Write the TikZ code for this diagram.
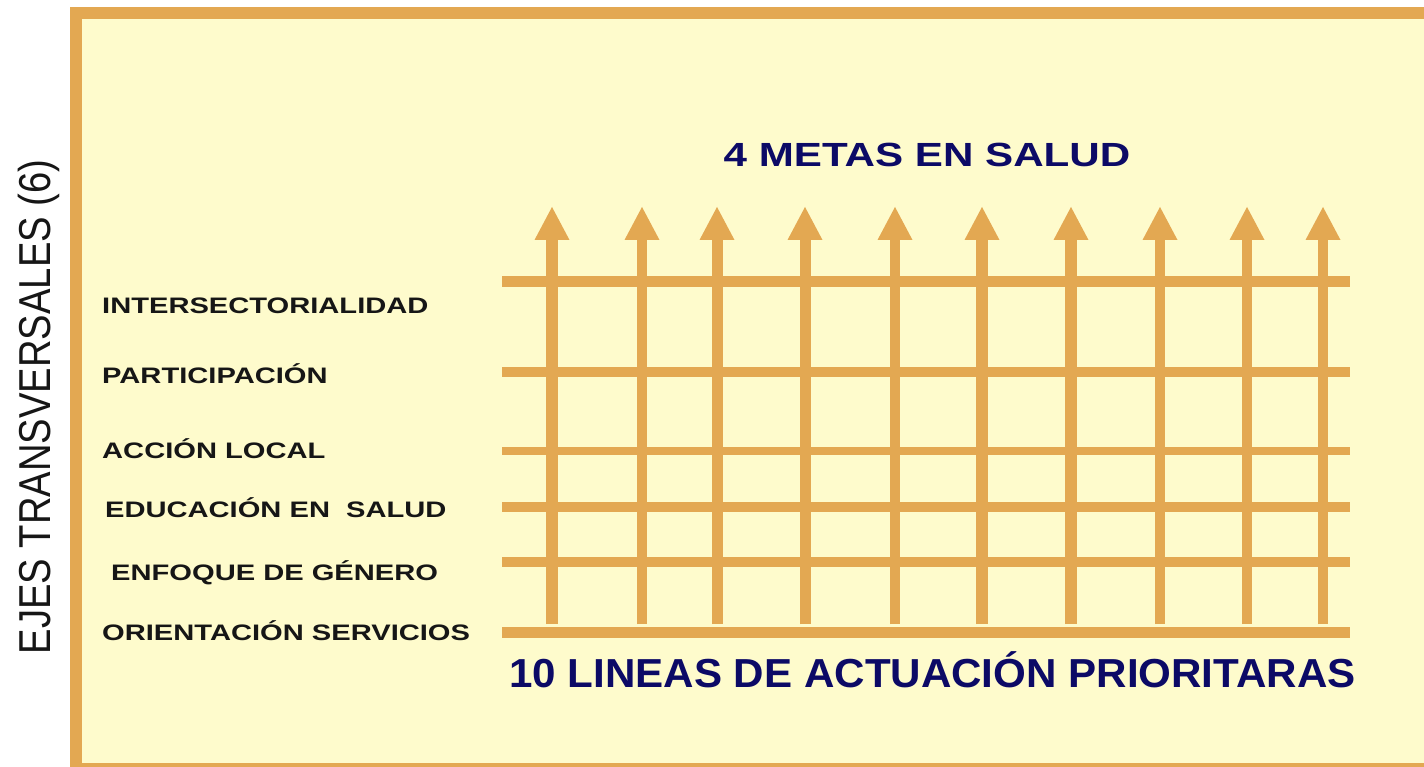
\documentclass[tikz,border=0pt]{standalone}
\usepackage{fontspec}
\setmainfont{Liberation Sans}
\usetikzlibrary{arrows.meta}
\definecolor{frameor}{RGB}{227,168,82}
\definecolor{bgy}{RGB}{254,251,204}
\definecolor{navy}{RGB}{12,10,102}
\definecolor{lblk}{RGB}{22,22,22}
\tikzset{
  hbar/.style={draw=frameor, line cap=butt},
  uparrow/.style={draw=frameor, line cap=butt, -{Triangle[width=35pt,length=33pt,line width=0pt]}},
  lbl/.style={inner sep=0pt, anchor=base west, text=lblk, font=\fontsize{22.4}{24}\selectfont\bfseries},
  ttl/.style={inner sep=0pt, anchor=base, text=navy},
}
\begin{document}
\begin{tikzpicture}[x=1pt,y=-1pt]
\useasboundingbox (0,0) rectangle (1424,767);
\clip (0,0) rectangle (1424,767);
% frame
\fill[white] (0,0) rectangle (1424,767);
\draw[draw=frameor, fill=bgy, line width=12pt] (76,13.5) rectangle (1450,768.5);
% horizontal bars
\foreach \yy/\w in {282/11, 372/10, 451/8, 507/10, 562/10, 632/11}{
  \coordinate (hl\yy) at (502,\yy);
  \coordinate (hr\yy) at (1350,\yy);
  \draw[hbar, line width=\w pt] (hl\yy) -- (hr\yy);
}
% vertical arrows
\foreach \xx/\w in {552/12, 642/10, 717/11, 805/11, 895/10, 982/12, 1071/12, 1160/10, 1247/10, 1323/10}{
  \coordinate (ab\xx) at (\xx,624);
  \coordinate (at\xx) at (\xx,207);
  \draw[uparrow, line width=\w pt] (ab\xx) -- (at\xx);
}
% titles
\node[ttl, font=\fontsize{33.5}{36}\selectfont\bfseries] (metas) at (927,167) {\scalebox{1.258}[1]{4 METAS EN SALUD}};
\node[ttl, font=\fontsize{40.5}{44}\selectfont\bfseries] (lineas) at (932.5,687) {\scalebox{1.04}[1]{10 LINEAS DE ACTUACIÓN PRIORITARAS}};
% rotated label
\node[inner sep=0pt, anchor=base, rotate=90, text=lblk, font=\fontsize{38.2}{40}\selectfont] (ejes) at (50,407) {\scalebox{1}[1.17]{EJES TRANSVERSALES (6)}};
% left labels
\node[lbl] (l1) at (102,313) {\scalebox{1.3}[1]{INTERSECTORIALIDAD}};
\node[lbl] (l2) at (102,383) {\scalebox{1.3}[1]{PARTICIPACIÓN}};
\node[lbl] (l3) at (102,458) {\scalebox{1.3}[1]{ACCIÓN LOCAL}};
\node[lbl] (l4) at (105,517) {\scalebox{1.3}[1]{EDUCACIÓN EN\ \ SALUD}};
\node[lbl] (l5) at (111,580) {\scalebox{1.3}[1]{ENFOQUE DE GÉNERO}};
\node[lbl] (l6) at (102,640) {\scalebox{1.3}[1]{ORIENTACIÓN SERVICIOS}};
\end{tikzpicture}
\end{document}
